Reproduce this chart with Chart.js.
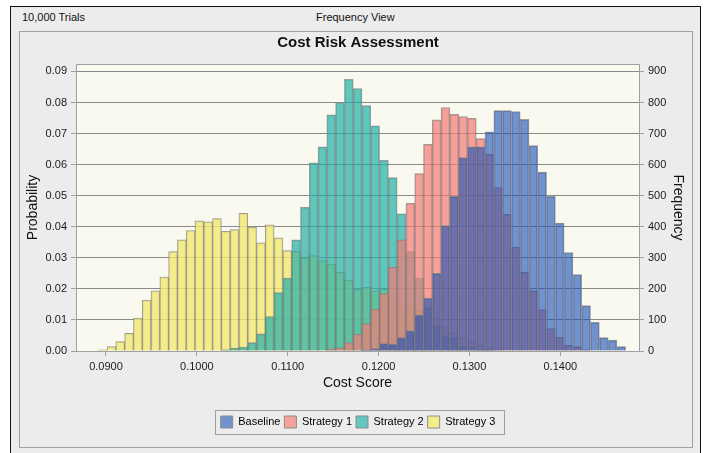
<!DOCTYPE html>
<html>
<head>
<meta charset="utf-8">
<script src="https://cdn.jsdelivr.net/npm/chart.js@4.4.1/dist/chart.umd.min.js"></script>
<style>
  html, body { margin: 0; padding: 0; background: #fff; }
  body { width: 705px; height: 453px; position: relative; overflow: hidden; font-family: "Liberation Sans", Arial, sans-serif; }
  #frame { position: absolute; left: 10px; top: 6px; width: 691px; height: 470px; border: 1px solid #111; background: #ececec; box-sizing: border-box; }
  #panel { position: absolute; left: 19px; top: 31px; width: 674px; height: 417px; border: 1px solid #a0a0a0; box-sizing: border-box; }
  .hdr { position: absolute; top: 11px; font-size: 11px; line-height: 13px; color: #111; }
  #chart { position: absolute; left: 0; top: 0; }
</style>
</head>
<body>
<div id="frame"></div>
<div id="panel"></div>
<div class="hdr" style="left:22px">10,000 Trials</div>
<div class="hdr" style="left:316px">Frequency View</div>
<canvas id="chart" width="705" height="453"></canvas>
<script>
// histogram bins (Cost Score)
const binStart = 0.089156;
const binWidth = 0.0009673;

// frequency per bin, 60 bins, 10,000 trials each
const baseline = [
  0, 0, 0, 0, 0, 0, 0, 0, 0, 0,
  0, 0, 0, 0, 0, 0, 0, 0, 0, 0,
  0, 0, 0, 0, 0, 0, 0, 0, 0, 0,
  3, 8, 24, 22, 43, 65, 116, 170, 250, 404,
  498, 623, 657, 657, 706, 774, 774, 771, 746, 661,
  576, 498, 412, 317, 246, 146, 92, 43, 35, 14,
];
const strategy1 = [
  0, 0, 0, 0, 0, 0, 0, 0, 0, 0,
  0, 0, 0, 0, 0, 0, 0, 0, 0, 0,
  0, 0, 0, 0, 0, 0, 6, 11, 27, 54,
  88, 135, 185, 270, 358, 476, 571, 665, 744, 784,
  762, 755, 749, 684, 634, 526, 440, 334, 253, 194,
  133, 72, 45, 18, 14, 4, 0, 0, 0, 0,
];
const strategy2 = [
  0, 0, 0, 0, 0, 0, 0, 0, 0, 0,
  0, 0, 0, 0, 4, 9, 13, 27, 55, 111,
  188, 235, 358, 463, 606, 657, 760, 800, 875, 845,
  790, 725, 614, 558, 442, 320, 235, 140, 81, 48,
  43, 16, 13, 6, 2, 0, 0, 0, 0, 0,
  0, 0, 0, 0, 0, 0, 0, 0, 0, 0,
];
const strategy3 = [
  4, 14, 30, 57, 106, 164, 194, 238, 320, 358,
  388, 419, 416, 426, 385, 391, 443, 399, 348, 406,
  364, 323, 321, 300, 307, 291, 280, 253, 228, 199,
  205, 194, 199, 164, 146, 146, 129, 115, 105, 78,
  60, 43, 32, 19, 10, 5, 0, 0, 0, 0,
  0, 0, 0, 0, 0, 0, 0, 0, 0, 0,
];

const seriesNames = ["Baseline", "Strategy 1", "Strategy 2", "Strategy 3"];
const probTicks = [0, 0.01, 0.02, 0.03, 0.04, 0.05, 0.06, 0.07, 0.08, 0.09];
const freqTicks = [0, 100, 200, 300, 400, 500, 600, 700, 800, 900];
const scoreTicks = [0.09, 0.10, 0.11, 0.12, 0.13, 0.14];

const fills = ["rgba(24,77,183,0.6)", "rgba(245,123,117,0.7)", "rgba(33,176,166,0.7)", "rgba(242,233,113,0.8)"];
const swatches = ["#7292ce", "#f6a19a", "#62c6bc", "#f3ec8a"];

Chart.defaults.font.family = '"Liberation Sans", Arial, sans-serif';
Chart.defaults.color = "#1a1a1a";

const toPoints = (arr) =>
  arr.map((v, i) => (v ? { x: binStart + (i + 0.5) * binWidth, y: v } : null)).filter(Boolean);

const makeSet = (name, arr, i) => ({
  label: name,
  data: toPoints(arr),
  backgroundColor: fills[i],
  borderColor: "rgba(125,125,125,0.75)",
  borderWidth: 1,
  grouped: false,
  categoryPercentage: 1,
  barPercentage: 1,
  yAxisID: "y1",
});

const plotFrame = {
  id: "plotFrame",
  beforeDraw(chart) {
    const { ctx, chartArea: a } = chart;
    ctx.save();
    ctx.fillStyle = "#f9f9ef";
    ctx.fillRect(a.left, a.top, a.right - a.left, a.bottom - a.top);
    ctx.restore();
  },
  afterDraw(chart) {
    const { ctx, chartArea: a } = chart;
    ctx.save();
    ctx.strokeStyle = "#a0a0a0";
    ctx.lineWidth = 1;
    ctx.beginPath();
    ctx.moveTo(a.left, Math.round(a.top) + 0.5);
    ctx.lineTo(a.right, Math.round(a.top) + 0.5);
    ctx.stroke();
    // box round the legend
    const hb = chart.legend.legendHitBoxes;
    if (hb && hb.length) {
      const l = Math.min(...hb.map((b) => b.left)) - 6;
      const r = Math.max(...hb.map((b) => b.left + b.width)) + 8;
      const t = hb[0].top - 6;
      const h = hb[0].height + 12;
      ctx.strokeRect(Math.round(l) + 0.5, Math.round(t) + 0.5, Math.round(r - l), Math.round(h));
    }
    ctx.restore();
  },
};

new Chart(document.getElementById("chart"), {
  type: "bar",
  data: {
    datasets: [
      makeSet(seriesNames[0], baseline, 0),
      makeSet(seriesNames[1], strategy1, 1),
      makeSet(seriesNames[2], strategy2, 2),
      makeSet(seriesNames[3], strategy3, 3),
    ],
  },
  options: {
    responsive: false,
    animation: false,
    devicePixelRatio: 1,
    layout: { padding: { top: 25, left: 26, right: 15, bottom: 15 } },
    plugins: {
      title: {
        display: true,
        text: "Cost Risk Assessment",
        color: "#111",
        font: { size: 15, weight: "bold" },
        padding: { top: 9, bottom: 12 },
      },
      legend: {
        position: "bottom",
        labels: {
          boxWidth: 12,
          boxHeight: 12,
          padding: 4,
          font: { size: 11 },
          color: "#1a1a1a",
          generateLabels: (chart) =>
            chart.data.datasets.map((ds, i) => ({
              text: ds.label,
              fillStyle: swatches[i],
              strokeStyle: "#8c8c8c",
              lineWidth: 1,
              datasetIndex: i,
              hidden: false,
            })),
        },
      },
      tooltip: { enabled: false },
    },
    scales: {
      x: {
        type: "linear",
        min: 0.0867,
        max: 0.14866,
        offset: false,
        afterBuildTicks: (s) => { s.ticks = scoreTicks.map((v) => ({ value: v })); },
        afterFit: (s) => { s.height = 61; },
        ticks: { callback: (v) => v.toFixed(4), font: { size: 11 }, padding: 4, maxRotation: 0, autoSkip: false },
        grid: { drawOnChartArea: false, offset: false, tickLength: 5, tickColor: "#a0a0a0" },
        border: { color: "#a0a0a0" },
        title: { display: true, text: "Cost Score", color: "#111", font: { size: 14 }, padding: { top: 0, bottom: 20 } },
      },
      y: {
        position: "left",
        min: 0,
        max: 0.0924,
        afterBuildTicks: (s) => { s.ticks = probTicks.map((v) => ({ value: v })); },
        afterFit: (s) => { s.width = 50; },
        ticks: { callback: (v) => v.toFixed(2), font: { size: 11 }, padding: 4 },
        grid: { color: "#8a8a8a", tickColor: "#a0a0a0", tickLength: 5 },
        border: { color: "#a0a0a0" },
        title: { display: true, text: "Probability", color: "#111", font: { size: 14 }, padding: { top: -1, bottom: 0 } },
      },
      y1: {
        position: "right",
        min: 0,
        max: 924,
        afterBuildTicks: (s) => { s.ticks = freqTicks.map((v) => ({ value: v })); },
        afterFit: (s) => { s.width = 51; },
        ticks: { callback: (v) => String(v), font: { size: 11 }, padding: 4 },
        grid: { drawOnChartArea: false, tickColor: "#a0a0a0", tickLength: 5 },
        border: { color: "#a0a0a0" },
        title: { display: true, text: "Frequency", color: "#111", font: { size: 14 }, padding: { top: 4, bottom: 0 } },
      },
    },
  },
  plugins: [plotFrame],
});
</script>
</body>
</html>
